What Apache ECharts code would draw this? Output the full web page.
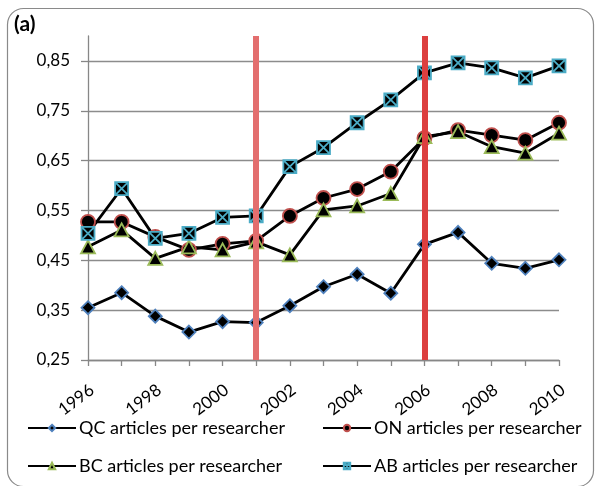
<!DOCTYPE html>
<html>
<head>
<meta charset="utf-8">
<script src="https://cdn.jsdelivr.net/npm/echarts@6/dist/echarts.min.js"></script>
<style>
html,body{margin:0;padding:0;background:#fff;}
#chart{width:596px;height:486px;}
</style>
</head>
<body>
<div id="chart"></div>
<script>
var years = ['1996','1997','1998','1999','2000','2001','2002','2003','2004','2005','2006','2007','2008','2009','2010'];
var qcValues = [0.355,0.385,0.338,0.306,0.327,0.325,0.359,0.397,0.422,0.384,0.482,0.506,0.444,0.434,0.451];
var onValues = [0.527,0.527,0.497,0.471,0.483,0.489,0.539,0.575,0.593,0.628,0.695,0.711,0.701,0.691,0.726];
var bcValues = [0.477,0.511,0.454,0.477,0.471,0.487,0.461,0.551,0.559,0.584,0.698,0.708,0.678,0.665,0.705];
var abValues = [0.504,0.594,0.494,0.504,0.536,0.539,0.638,0.676,0.726,0.772,0.826,0.846,0.836,0.816,0.840];
var yTicks = [0.25,0.35,0.45,0.55,0.65,0.75,0.85];
var markYears = ['2001','2006'];
var seriesNames = ['QC articles per researcher','ON articles per researcher','BC articles per researcher','AB articles per researcher'];

var FONT = 'Lato, "Open Sans", sans-serif';
var chart = echarts.init(document.getElementById('chart'), null, {renderer:'canvas'});
var boxX = 'path://M0,0L10,0L10,10L0,10Z M0,0L10,10 M10,0L0,10';

function legend(name, left, top) {
  return {
    data: [name], left: left, top: top, padding: 0, itemWidth: 48, itemHeight: 8, itemGap: 0,
    textStyle: {fontFamily: FONT, fontSize: 18, color: '#000', padding: [0,0,0,-2]},
    selectedMode: false
  };
}

chart.setOption({
  animation: false,
  textStyle: {fontFamily: FONT},
  title: {text: '(a)', left: 14, top: 14, padding: 0,
    textStyle: {fontSize: 21, fontWeight: 'bold', fontFamily: FONT, color: '#000'}},
  graphic: [
    {type:'rect', shape:{x:7.5, y:8.5, width:586, height:478, r:16}, style:{fill:'none', stroke:'#8a8a8a', lineWidth:1.2}, z: 0}
  ],
  legend: [
    legend(seriesNames[0], 27, 419),
    legend(seriesNames[1], 322, 419),
    legend(seriesNames[2], 27, 457),
    legend(seriesNames[3], 322, 457)
  ],
  grid: {left: 88, right: 37, top: 36, bottom: 126, containLabel: false},
  xAxis: {
    type: 'category', data: years, boundaryGap: false,
    axisLine: {lineStyle: {color: '#878787', width: 1.3}},
    axisTick: {show: true, length: 6, alignWithLabel: true, lineStyle: {color: '#878787', width: 1.3}, interval: 0},
    axisLabel: {interval: 1, rotate: 37, margin: 31, padding: [0, -5, 0, 0], fontSize: 17, color: '#000', fontFamily: FONT},
    splitLine: {show: false}
  },
  yAxis: {
    type: 'value', min: 0.25, max: 0.9,
    axisLine: {show: true, lineStyle: {color: '#878787', width: 1.3}},
    axisTick: {show: true, length: 7, inside: false, customValues: yTicks, lineStyle: {color: '#878787', width: 1.3}},
    axisLabel: {customValues: yTicks, margin: 18, fontSize: 17, color: '#000', fontFamily: FONT,
      formatter: function(v){ return v.toFixed(2).replace('.', ','); }},
    splitLine: {show: true, lineStyle: {color: '#8c8c8c', width: 1.3}}
  },
  series: [
    {
      name: 'marks', type: 'line', data: [], z: 1, silent: true,
      markLine: {
        silent: true, symbol: ['none','none'], label: {show: false},
        data: [
          {xAxis: markYears[0], lineStyle: {color: '#e36e6e', width: 6, type: 'solid'}},
          {xAxis: markYears[1], lineStyle: {color: '#dc3f3f', width: 6, type: 'solid'}}
        ]
      }
    },
    {
      name: seriesNames[0], type: 'line', data: qcValues, z: 3,
      symbol: 'diamond', symbolSize: [13, 13],
      lineStyle: {color: '#000', width: 2.8},
      itemStyle: {color: '#000', borderColor: '#4f81bd', borderWidth: 1.8}
    },
    {
      name: seriesNames[1], type: 'line', data: onValues, z: 3,
      symbol: 'circle', symbolSize: 14,
      lineStyle: {color: '#000', width: 2.8},
      itemStyle: {color: '#000', borderColor: '#c0504d', borderWidth: 1.8}
    },
    {
      name: seriesNames[2], type: 'line', data: bcValues, z: 3,
      symbol: 'triangle', symbolSize: [14, 13],
      lineStyle: {color: '#000', width: 2.8},
      itemStyle: {color: '#000', borderColor: '#9bbb59', borderWidth: 1.8}
    },
    {
      name: seriesNames[3], type: 'line', data: abValues, z: 3,
      symbol: boxX, symbolSize: 13,
      lineStyle: {color: '#000', width: 2.8},
      itemStyle: {color: '#000', borderColor: '#4bacc6', borderWidth: 1.8}
    }
  ]
});
</script>
</body>
</html>
